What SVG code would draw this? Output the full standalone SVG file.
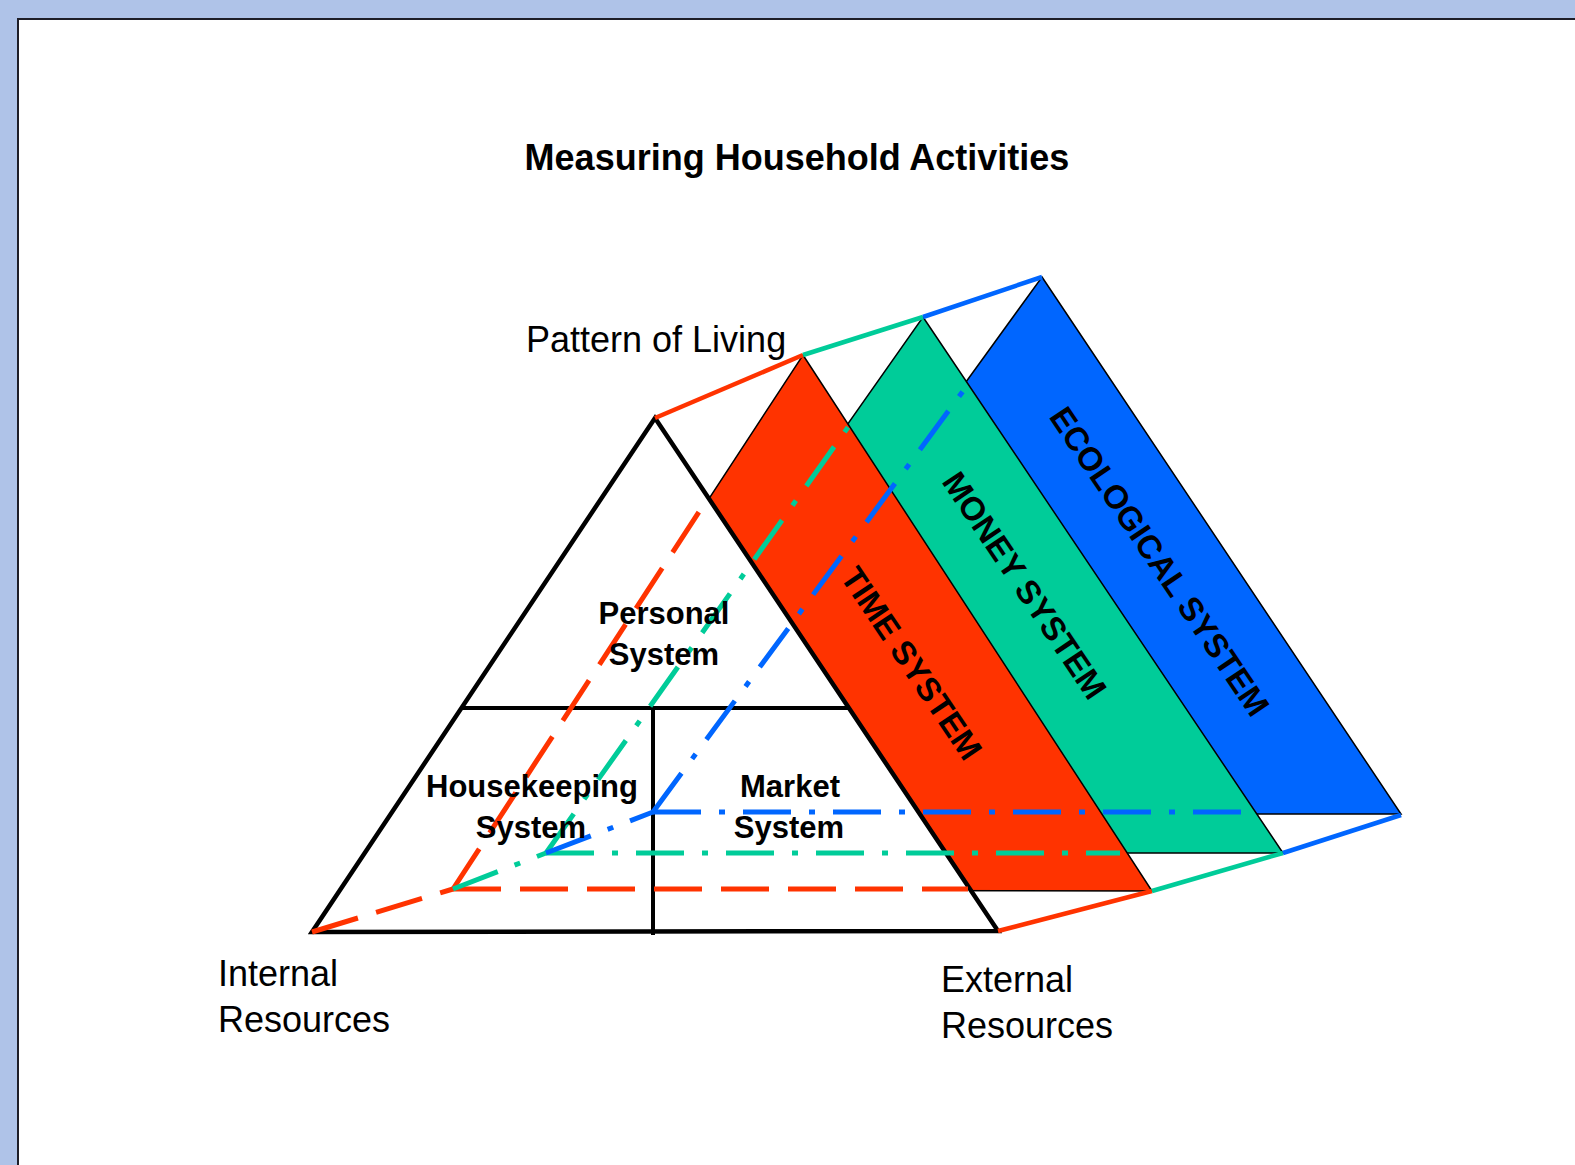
<svg xmlns="http://www.w3.org/2000/svg" width="1575" height="1165" viewBox="0 0 1575 1165">
  <style>
    .t { font-family: "Liberation Sans", Arial, sans-serif; fill: #000; }
    .b { font-weight: bold; }
    .panel { stroke: #000; stroke-width: 1.5; stroke-linejoin: miter; }
    .edge { fill: none; stroke-width: 4.5; stroke-linecap: butt; }
    .dash { fill: none; stroke-width: 5; stroke-dasharray: 48 19; }
    .dashdot { fill: none; stroke-width: 5; stroke-dasharray: 48 18 6 18; }
    .red { stroke: #FF3300; }
    .green { stroke: #00CC99; }
    .blue { stroke: #0066FF; }
  </style>
  <rect x="0" y="0" width="1575" height="1165" fill="#AFC3E8"/>
  <rect x="18" y="19" width="1600" height="1200" fill="#FFFFFF" stroke="#1E1E28" stroke-width="2"/>

  <g id="title">
    <text class="t b" x="797" y="170" font-size="36" text-anchor="middle">Measuring Household Activities</text>
  </g>

  <g id="ecological-system">
    <polygon class="panel" fill="#0066FF" points="1042,277 1401,814 653,814"/>
  </g>
  <g id="money-system">
    <polygon class="panel" fill="#00CC99" points="923,317 1283,853 546,853"/>
  </g>
  <g id="time-system">
    <polygon class="panel" fill="#FF3300" points="803,355 1152,891 453,890"/>
  </g>

  <g id="household-triangle">
    <polygon points="655,418 998,931 312,932" fill="#FFFFFF" stroke="#000" stroke-width="4.5" stroke-linejoin="miter"/>
    <line x1="461" y1="708" x2="850" y2="708" stroke="#000" stroke-width="4"/>
    <line x1="653" y1="708" x2="653" y2="935" stroke="#000" stroke-width="4"/>
  </g>

  <g id="connectors">
    <!-- top edges -->
    <line class="edge red" x1="655" y1="418" x2="803" y2="355"/>
    <line class="edge green" x1="803" y1="355" x2="923" y2="317"/>
    <line class="edge blue" x1="923" y1="317" x2="1042" y2="277"/>
    <!-- bottom edges -->
    <line class="edge red" x1="998" y1="931" x2="1152" y2="891"/>
    <line class="edge green" x1="1152" y1="891" x2="1283" y2="853"/>
    <line class="edge blue" x1="1283" y1="853" x2="1401" y2="815"/>
    <!-- hidden red edges -->
    <line class="dash red" x1="312" y1="932" x2="453" y2="889"/>
    <line class="dash red" x1="453" y1="889" x2="968" y2="889"/>
    <line class="dash red" x1="453" y1="889" x2="708" y2="498"/>
    <!-- hidden green edges -->
    <line class="dashdot green" x1="453" y1="889" x2="546" y2="853"/>
    <line class="dashdot green" x1="546" y1="853" x2="1120" y2="853"/>
    <line class="dashdot green" x1="546" y1="853" x2="851" y2="423"/>
    <!-- hidden blue edges -->
    <line class="dashdot blue" x1="546" y1="853" x2="653" y2="812"/>
    <line class="dashdot blue" x1="653" y1="812" x2="1242" y2="812"/>
    <line class="dashdot blue" x1="653" y1="812" x2="969" y2="383"/>
  </g>

  <g id="labels">
    <text class="t" x="526" y="352" font-size="36">Pattern of Living</text>
    <text class="t" x="218" y="986" font-size="36">Internal</text>
    <text class="t" x="218" y="1032" font-size="36">Resources</text>
    <text class="t" x="941" y="992" font-size="36">External</text>
    <text class="t" x="941" y="1038" font-size="36">Resources</text>
  </g>

  <g id="personal-system">
    <text class="t b" x="664" y="624" font-size="31" text-anchor="middle">Personal</text>
    <text class="t b" x="664" y="665" font-size="31" text-anchor="middle">System</text>
  </g>
  <g id="housekeeping-system">
    <text class="t b" x="532" y="797" font-size="31" text-anchor="middle">Housekeeping</text>
    <text class="t b" x="531" y="838" font-size="31" text-anchor="middle">System</text>
  </g>
  <g id="market-system">
    <text class="t b" x="790" y="797" font-size="31" text-anchor="middle">Market</text>
    <text class="t b" x="789" y="838" font-size="31" text-anchor="middle">System</text>
  </g>

  <g id="panel-labels">
    <text class="t b" font-size="33" text-anchor="middle" transform="translate(912,663) rotate(56)" y="12">TIME SYSTEM</text>
    <text class="t b" font-size="33" text-anchor="middle" transform="translate(1025,585) rotate(56)" y="12">MONEY SYSTEM</text>
    <text class="t b" font-size="33" text-anchor="middle" transform="translate(1160,561) rotate(56)" y="12">ECOLOGICAL SYSTEM</text>
  </g>
</svg>
